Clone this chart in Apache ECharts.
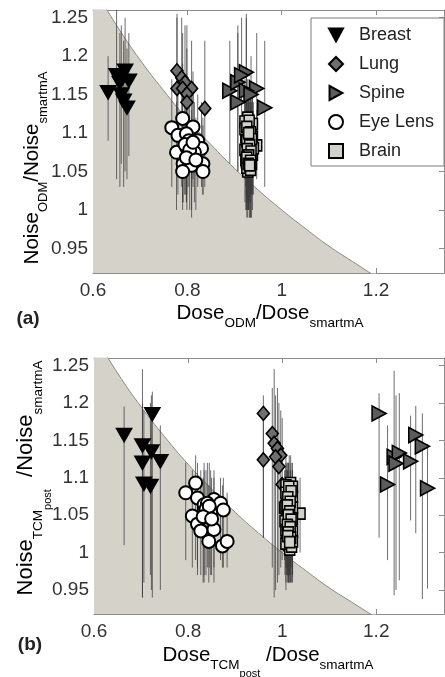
<!DOCTYPE html>
<html>
<head>
<meta charset="utf-8">
<script src="https://cdn.jsdelivr.net/npm/echarts@6/dist/echarts.min.js"></script>
<style>
  html, body { margin: 0; padding: 0; background: #fff; }
  #chart { width: 445px; height: 677px; }
</style>
</head>
<body>
<div id="chart"></div>
<script>
// tick labels
const xTicks = [0.6, 0.8, 1, 1.2];
const yTicks = [0.95, 1, 1.05, 1.1, 1.15, 1.2, 1.25];

// shaded limit curve
const limitX = [0.6, 0.65, 0.7, 0.75, 0.8, 0.85, 0.9, 0.95, 1.0, 1.05, 1.1, 1.15, 1.2];
const limitY = [1.291, 1.240, 1.195, 1.155, 1.118, 1.085, 1.054, 1.026, 1.0, 0.976, 0.953, 0.933, 0.913];

// panel (a): [dose ratio, noise ratio, bar low, bar high]
const breastA = [
  [0.632, 1.153, 1.09, 1.20], [0.650, 1.175, 1.04, 1.26], [0.657, 1.165, 1.03, 1.23],
  [0.668, 1.181, 1.05, 1.25], [0.676, 1.168, 1.07, 1.23], [0.660, 1.150, 1.06, 1.24],
  [0.665, 1.142, 1.03, 1.22], [0.672, 1.133, 1.04, 1.21]
];
const lungA = [
  [0.778, 1.181, 1.10, 1.255], [0.788, 1.172, 1.03, 1.25], [0.795, 1.166, 1.02, 1.24],
  [0.778, 1.158, 1.06, 1.25], [0.790, 1.158, 1.01, 1.23], [0.809, 1.158, 1.04, 1.22],
  [0.799, 1.151, 1.03, 1.24], [0.799, 1.140, 1.00, 1.21], [0.837, 1.132, 1.03, 1.22]
];
const spineA = [
  [0.890, 1.155, 1.06, 1.22], [0.907, 1.166, 1.05, 1.24], [0.925, 1.179, 1.08, 1.255],
  [0.947, 1.158, 1.07, 1.23], [0.964, 1.133, 1.03, 1.22], [0.907, 1.140, 1.05, 1.23],
  [0.925, 1.155, 1.04, 1.25], [0.915, 1.175, 1.10, 1.25], [0.935, 1.150, 1.02, 1.20]
];
const eyeA = [
  [0.767, 1.107, 1.03, 1.17], [0.790, 1.119, 1.05, 1.19], [0.812, 1.108, 1.04, 1.18],
  [0.780, 1.097, 1.02, 1.16], [0.798, 1.099, 1.01, 1.17], [0.822, 1.090, 1.03, 1.15],
  [0.777, 1.075, 1.00, 1.14], [0.799, 1.081, 1.02, 1.15], [0.830, 1.080, 1.03, 1.14],
  [0.809, 1.071, 1.00, 1.13], [0.791, 1.060, 1.01, 1.12], [0.809, 1.058, 0.99, 1.12],
  [0.833, 1.060, 1.02, 1.11], [0.790, 1.050, 1.00, 1.11], [0.833, 1.050, 1.02, 1.12],
  [0.803, 1.090, 1.03, 1.16], [0.815, 1.075, 1.01, 1.14], [0.795, 1.085, 1.02, 1.15],
  [0.805, 1.078, 1.00, 1.14], [0.812, 1.088, 1.03, 1.15], [0.798, 1.068, 1.01, 1.13],
  [0.818, 1.065, 1.00, 1.12]
];
const brainA = [
  [0.928, 1.120, 1.07, 1.17], [0.930, 1.110, 1.04, 1.16], [0.925, 1.102, 1.03, 1.16],
  [0.933, 1.098, 1.02, 1.15], [0.928, 1.093, 1.01, 1.15], [0.935, 1.088, 1.03, 1.14],
  [0.930, 1.080, 1.00, 1.14], [0.947, 1.084, 1.04, 1.13], [0.928, 1.075, 1.01, 1.13],
  [0.933, 1.068, 0.99, 1.12], [0.925, 1.062, 1.00, 1.12], [0.930, 1.056, 1.00, 1.11],
  [0.928, 1.050, 0.99, 1.11], [0.935, 1.105, 1.05, 1.16], [0.925, 1.085, 1.02, 1.14],
  [0.922, 1.115, 1.06, 1.17], [0.938, 1.112, 1.05, 1.16], [0.924, 1.095, 1.03, 1.15],
  [0.938, 1.095, 1.02, 1.15], [0.922, 1.078, 1.01, 1.14], [0.938, 1.072, 1.00, 1.13],
  [0.924, 1.065, 1.00, 1.12], [0.936, 1.060, 0.99, 1.12], [0.926, 1.055, 1.00, 1.11],
  [0.934, 1.052, 0.99, 1.11], [0.922, 1.105, 1.04, 1.16], [0.940, 1.080, 1.02, 1.14],
  [0.931, 1.116, 1.06, 1.17], [0.926, 1.108, 1.05, 1.16], [0.934, 1.101, 1.04, 1.15],
  [0.929, 1.097, 1.03, 1.15], [0.936, 1.092, 1.02, 1.14], [0.926, 1.089, 1.01, 1.14],
  [0.932, 1.084, 1.01, 1.14], [0.927, 1.079, 1.00, 1.13], [0.935, 1.076, 1.02, 1.13],
  [0.930, 1.071, 1.00, 1.12], [0.926, 1.068, 0.99, 1.12], [0.934, 1.064, 1.01, 1.12],
  [0.929, 1.060, 1.00, 1.11], [0.932, 1.058, 0.99, 1.11], [0.930, 1.100, 1.03, 1.15]
];

// panel (b)
const breastB = [
  [0.664, 1.157, 1.01, 1.195], [0.724, 1.185, 0.94, 1.215], [0.703, 1.143, 0.94, 1.245],
  [0.722, 1.135, 0.95, 1.21], [0.703, 1.120, 0.94, 1.20], [0.741, 1.122, 0.95, 1.17],
  [0.706, 1.092, 0.96, 1.19], [0.720, 1.089, 0.97, 1.20]
];
const lungB = [
  [0.960, 1.186, 1.02, 1.21], [0.979, 1.159, 0.98, 1.22], [0.983, 1.146, 0.94, 1.245],
  [0.990, 1.139, 0.96, 1.22], [0.997, 1.130, 0.98, 1.19], [0.986, 1.128, 0.95, 1.21],
  [0.993, 1.115, 0.97, 1.20], [0.960, 1.124, 1.02, 1.19], [1.000, 1.091, 0.99, 1.18]
];
const spineB = [
  [1.206, 1.186, 1.02, 1.213], [1.224, 1.091, 0.99, 1.17], [1.238, 1.128, 0.943, 1.243],
  [1.249, 1.133, 0.963, 1.213], [1.242, 1.119, 0.95, 1.21], [1.273, 1.122, 1.043, 1.183],
  [1.284, 1.157, 1.026, 1.196], [1.298, 1.142, 0.938, 1.186], [1.309, 1.086, 0.952, 1.145]
];
const eyeB = [
  [0.795, 1.080, 0.99, 1.12], [0.816, 1.093, 0.99, 1.13], [0.820, 1.073, 0.98, 1.12],
  [0.834, 1.064, 0.97, 1.11], [0.809, 1.049, 0.98, 1.11], [0.834, 1.055, 0.96, 1.12],
  [0.855, 1.071, 0.98, 1.11], [0.869, 1.066, 0.99, 1.10], [0.875, 1.057, 0.98, 1.10],
  [0.820, 1.038, 0.97, 1.10], [0.855, 1.031, 0.96, 1.10], [0.827, 1.029, 0.97, 1.11],
  [0.844, 1.015, 0.96, 1.09], [0.873, 1.009, 0.98, 1.09], [0.883, 1.015, 0.98, 1.08],
  [0.848, 1.053, 0.97, 1.11], [0.841, 1.066, 0.98, 1.12], [0.838, 1.058, 0.97, 1.11],
  [0.845, 1.062, 0.98, 1.12], [0.832, 1.048, 0.96, 1.10], [0.850, 1.045, 0.97, 1.10]
];
const brainB = [
  [1.018, 1.093, 1.01, 1.13], [1.012, 1.085, 0.99, 1.12], [1.015, 1.078, 0.98, 1.13],
  [1.010, 1.070, 0.97, 1.12], [1.018, 1.065, 0.99, 1.11], [1.013, 1.058, 0.96, 1.12],
  [1.038, 1.052, 1.00, 1.10], [1.010, 1.048, 0.98, 1.11], [1.016, 1.040, 0.97, 1.10],
  [1.012, 1.032, 0.96, 1.10], [1.018, 1.025, 0.98, 1.09], [1.010, 1.018, 0.97, 1.08],
  [1.014, 1.010, 0.96, 1.08], [1.016, 1.004, 0.97, 1.07], [1.005, 1.060, 0.99, 1.11],
  [1.008, 1.090, 1.00, 1.13], [1.022, 1.088, 0.99, 1.12], [1.008, 1.080, 0.98, 1.12],
  [1.022, 1.075, 0.97, 1.11], [1.008, 1.062, 0.98, 1.11], [1.022, 1.060, 0.96, 1.11],
  [1.006, 1.042, 0.97, 1.10], [1.022, 1.045, 0.98, 1.10], [1.008, 1.030, 0.96, 1.09],
  [1.022, 1.028, 0.97, 1.09], [1.008, 1.012, 0.95, 1.08], [1.020, 1.008, 0.96, 1.07],
  [1.022, 1.015, 0.97, 1.08], [1.014, 1.088, 1.00, 1.12], [1.019, 1.082, 0.99, 1.12],
  [1.012, 1.074, 0.98, 1.11], [1.017, 1.068, 0.97, 1.11], [1.011, 1.063, 0.98, 1.11],
  [1.016, 1.055, 0.97, 1.10], [1.013, 1.050, 0.96, 1.10], [1.019, 1.044, 0.98, 1.10],
  [1.011, 1.037, 0.97, 1.09], [1.017, 1.034, 0.96, 1.09], [1.013, 1.027, 0.97, 1.09],
  [1.018, 1.020, 0.96, 1.08], [1.012, 1.022, 0.97, 1.08], [1.016, 1.014, 0.96, 1.08]
];

const chart = echarts.init(document.getElementById('chart'), null, { renderer: 'canvas' });

const FONT = 'Liberation Sans, Arial, sans-serif';
const axisGray = '#8c8c8c';

// marker looks
const styles = {
  'Breast':   { symbol: 'path://M0,0 L12,0 L6,11 Z', size: [15, 13], color: '#000' },
  'Lung':     { symbol: 'diamond', size: [12, 14], color: '#6e6e6e' },
  'Spine':    { symbol: 'path://M0,0 L12,6.5 L0,13 Z', size: [14, 15], color: '#5c5c5c' },
  'Eye Lens': { symbol: 'circle', size: 13, color: '#fff' },
  'Brain':    { symbol: 'rect', size: [10, 11], color: '#d2d2ca' }
};

function xAxes(gi) {
  const base = {
    type: 'value', gridIndex: gi, min: 0.6, max: 1.344,
    axisLine: { show: true, onZero: false, lineStyle: { color: axisGray, width: 1 } },
    axisTick: { show: true, inside: true, length: 5, customValues: xTicks, lineStyle: { color: axisGray } },
    splitLine: { show: false }
  };
  return [
    Object.assign({}, base, {
      position: 'bottom',
      axisLabel: { customValues: xTicks, fontSize: 19, color: '#333', margin: 8, fontFamily: FONT }
    }),
    Object.assign({}, base, { position: 'top', axisLabel: { show: false } })
  ];
}
function yAxes(gi) {
  const base = {
    type: 'value', gridIndex: gi, min: 0.918, max: 1.26,
    axisLine: { show: true, onZero: false, lineStyle: { color: axisGray, width: 1 } },
    axisTick: { show: true, inside: true, length: 5, customValues: yTicks, lineStyle: { color: axisGray } },
    splitLine: { show: false }
  };
  return [
    Object.assign({}, base, {
      position: 'left',
      axisLabel: { customValues: yTicks, fontSize: 19, color: '#333', margin: 5, fontFamily: FONT }
    }),
    Object.assign({}, base, { position: 'right', axisLabel: { show: false } })
  ];
}

function errBars(rows, xi, yi) {
  return {
    type: 'custom', name: 'err', xAxisIndex: xi, yAxisIndex: yi, clip: true, z: 2, silent: true,
    data: rows.map(r => [r[0], r[2], r[3]]),
    encode: { x: 0, y: [1, 2] },
    renderItem: function (params, api) {
      const lo = api.coord([api.value(0), api.value(1)]);
      const hi = api.coord([api.value(0), api.value(2)]);
      return {
        type: 'line',
        shape: { x1: lo[0], y1: lo[1], x2: hi[0], y2: hi[1] },
        style: { stroke: 'rgba(60,60,60,0.75)', lineWidth: 1 }
      };
    }
  };
}

function scatter(name, rows, xi, yi) {
  const s = styles[name];
  return {
    type: 'scatter', name: name, xAxisIndex: xi, yAxisIndex: yi, z: 4,
    symbol: s.symbol, symbolSize: s.size,
    itemStyle: { color: s.color, borderColor: '#000', borderWidth: name === 'Eye Lens' ? 2 : 1.6, opacity: 1 },
    data: rows.map(r => [r[0], r[1]])
  };
}

function limitArea(xi, yi) {
  return {
    type: 'line', name: 'limit', xAxisIndex: xi, yAxisIndex: yi, z: 1, silent: true,
    symbol: 'none', smooth: true, clip: true,
    lineStyle: { color: '#8a8a84', width: 1 },
    areaStyle: { color: '#d5d2ca', opacity: 1, origin: 'start' },
    data: limitX.map((x, i) => [x, limitY[i]])
  };
}

const organs = ['Breast', 'Lung', 'Spine', 'Eye Lens', 'Brain'];
const panelA = [breastA, lungA, spineA, eyeA, brainA];
const panelB = [breastB, lungB, spineB, eyeB, brainB];

const series = [limitArea(0, 0), limitArea(2, 2)];
panelA.forEach(rows => series.push(errBars(rows, 0, 0)));
panelB.forEach(rows => series.push(errBars(rows, 2, 2)));
organs.forEach((n, i) => series.push(scatter(n, panelA[i], 0, 0)));
organs.forEach((n, i) => series.push(scatter(n, panelB[i], 2, 2)));

function rich(big, small, tiny, p1, p2) {
  return {
    m: { fontSize: big, lineHeight: big + 2, verticalAlign: 'top', fontFamily: FONT, color: '#333' },
    s: { fontSize: small, lineHeight: small, verticalAlign: 'top', padding: [p1, 0, 0, 0], fontFamily: FONT, color: '#333' },
    ss: { fontSize: tiny, lineHeight: tiny, verticalAlign: 'top', padding: [p2, 0, 0, 0], fontFamily: FONT, color: '#333' }
  };
}
const xRich = rich(20.5, 13.5, 11, 14, 24);
const yRichA = rich(20.5, 13, 11, 15, 25);
const yRichB = rich(22, 13.5, 11, 16, 27);

function title(text, x, y, r, rot) {
  return {
    type: 'text', x: x, y: y, rotation: rot || 0, z: 10,
    style: { text: text, rich: r, align: 'center', verticalAlign: 'middle' }
  };
}

const option = {
  backgroundColor: '#fff',
  animation: false,
  grid: [
    { left: 93, top: 10, width: 351, height: 263 },
    { left: 94, top: 358, width: 350, height: 256 }
  ],
  xAxis: xAxes(0).concat(xAxes(1)),
  yAxis: yAxes(0).concat(yAxes(1)),
  legend: {
    data: organs, orient: 'vertical', left: 311, top: 18,
    itemWidth: 14, itemHeight: 14, itemGap: 11,
    padding: [8, 10, 6, 17],
    borderColor: '#7a7a7a', borderWidth: 1, backgroundColor: '#fff',
    textStyle: { fontSize: 18, color: '#222', fontFamily: FONT, padding: [0, 0, 0, 11] },
    selectedMode: false
  },
  graphic: [
    title('{m|Dose}{s|ODM}{m|/Dose}{s|smartmA}', 270, 314, xRich),
    title('{m|Noise}{s|ODM}{m|/Noise}{s|smartmA}', 33, 168, yRichA, Math.PI / 2),
    title('{m|Dose}{s|TCM}{ss|post}{m| /Dose}{s|smartmA}', 268, 656, xRich),
    title('{m|Noise}{s|TCM}{ss|post}{m|  /Noise}{s|smartmA}', 27, 478, yRichB, Math.PI / 2),
    { type: 'text', x: 28, y: 319, z: 10, style: { text: '(a)', font: 'bold 19px ' + FONT, fill: '#222', align: 'center', verticalAlign: 'middle' } },
    { type: 'text', x: 30, y: 645, z: 10, style: { text: '(b)', font: 'bold 19px ' + FONT, fill: '#222', align: 'center', verticalAlign: 'middle' } }
  ],
  series: series
};

chart.setOption(option);
</script>
</body>
</html>
